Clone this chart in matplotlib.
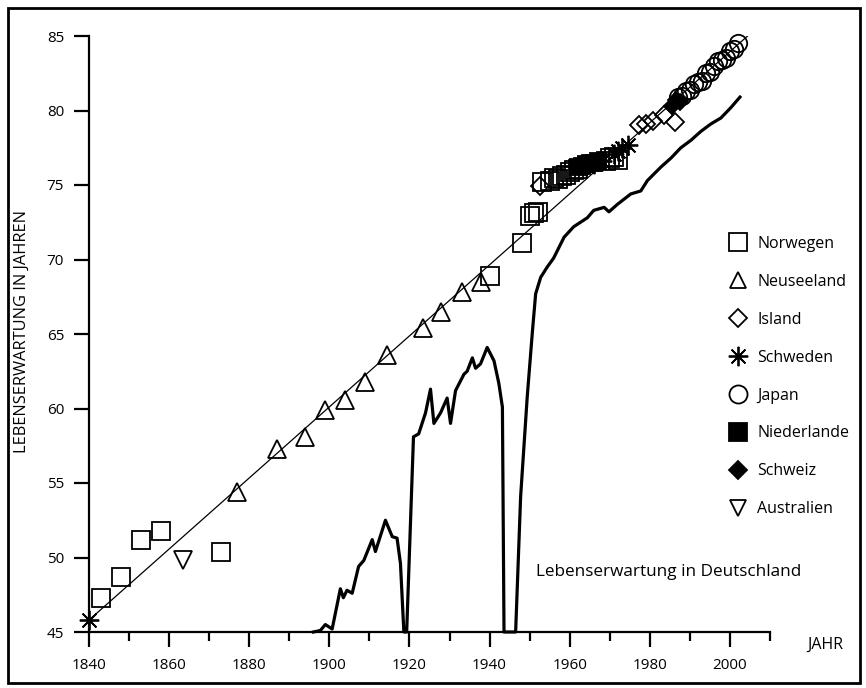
import numpy as np
import matplotlib
matplotlib.use('Agg')
import matplotlib.pyplot as plt
from matplotlib.lines import Line2D
from matplotlib.patches import Rectangle
from matplotlib.ticker import MultipleLocator

plt.rcParams['font.family'] = ['Open Sans', 'DejaVu Sans']

# record holders (year, life expectancy)
norwegen_years = [1843, 1848, 1853, 1858, 1873, 1940, 1948, 1950, 1951, 1952,
                  1953, 1955, 1956, 1957, 1958, 1959, 1960, 1961, 1962,
                  1969, 1970, 1971, 1972]
norwegen_vals = [47.3, 48.7, 51.2, 51.8, 50.4, 68.9, 71.1, 72.9, 73.1, 73.2,
                 75.2, 75.3, 75.5, 75.4, 75.6, 75.7, 75.9, 76.0, 76.1,
                 76.6, 76.8, 76.9, 76.7]

neuseeland_years = [1877, 1887, 1894, 1899, 1904, 1909, 1914.5, 1923.5, 1927.75, 1933, 1937.75]
neuseeland_vals = [54.4, 57.3, 58.1, 59.9, 60.6, 61.8, 63.6, 65.4, 66.5, 67.8, 68.5]

island_years = [1952.5, 1977.3, 1979, 1980.7, 1983.6, 1986.3]
island_vals = [74.9, 79.0, 79.1, 79.3, 79.7, 79.2]

schweden_years = [1840, 1964, 1966, 1968, 1971, 1972, 1973, 1974.5]
schweden_vals = [45.8, 76.3, 76.4, 76.6, 77.1, 77.3, 77.5, 77.7]

japan_years = [1987, 1988, 1989, 1990, 1991, 1992, 1993, 1994, 1995, 1996,
               1997, 1998, 1999, 2000, 2001, 2002]
japan_vals = [80.9, 81.0, 81.3, 81.4, 81.8, 81.9, 82.0, 82.5, 82.6, 83.0,
              83.3, 83.4, 83.5, 84.0, 84.1, 84.5]

niederlande_years = [1962, 1963, 1964, 1965, 1966, 1967]
niederlande_vals = [76.2, 76.3, 76.4, 76.5, 76.5, 76.6]

schweiz_years = [1985.5, 1986.5, 1987.5]
schweiz_vals = [80.3, 80.7, 80.6]

australien_years = [1863.5]
australien_vals = [49.8]

# linear trend of record life expectancy
trend_years = [1840, 2006.5]
trend_vals = [45.8, 85.5]

# Germany
de_years = [1896, 1897.75, 1899, 1900.7, 1902.75, 1903.5, 1904.4, 1905.7, 1907.3, 1908.6,
            1910.7, 1911.5, 1914, 1915.7, 1916.9, 1917.75, 1918.6, 1919.3, 1921.0, 1922.3,
            1924, 1925.25, 1926.1, 1927.75, 1929.4, 1930.25, 1931.5, 1933.6, 1934.4, 1935.7,
            1936.5, 1937.75, 1939.4, 1941.1, 1942.3, 1943.2, 1943.6, 1946.5, 1947.75, 1949.4,
            1950.7, 1951.5, 1952.75, 1954.4, 1956, 1958.6, 1961, 1964.4, 1966, 1968.6,
            1969.8, 1971.9, 1975.25, 1977.75, 1979.4, 1982.75, 1985.25, 1987.75, 1990.25, 1992.75,
            1995.25, 1997.75, 2000.25, 2002.5]
de_vals = [45.0, 45.1, 45.5, 45.2, 47.9, 47.3, 47.8, 47.6, 49.4, 49.8,
           51.2, 50.4, 52.5, 51.4, 51.3, 49.6, 45.0, 45.0, 58.1, 58.3,
           59.7, 61.3, 59.0, 59.7, 60.7, 59.0, 61.2, 62.3, 62.5, 63.4,
           62.7, 63.0, 64.1, 63.2, 61.7, 60.1, 45.0, 45.0, 54.1, 60.8,
           65.2, 67.7, 68.8, 69.5, 70.1, 71.5, 72.2, 72.8, 73.3, 73.5,
           73.2, 73.7, 74.4, 74.6, 75.3, 76.2, 76.8, 77.5, 78.0, 78.6,
           79.1, 79.5, 80.2, 80.9]

W, H = 866, 688
fig = plt.figure(figsize=(W / 100, H / 100), dpi=100)
ax = fig.add_axes([89 / W, (H - 632) / H, 681 / W, 596 / H])

ax.plot(trend_years, trend_vals, color='black', lw=0.9, zorder=2)
ax.plot(de_years, de_vals, color='black', lw=2.3, zorder=2, clip_on=False)

mkw = dict(linestyle='none', color='black', mew=1.3, clip_on=False, zorder=3)
ax.plot(norwegen_years, norwegen_vals, marker='s', ms=13.5, mfc='none', **mkw)
ax.plot(neuseeland_years, neuseeland_vals, marker='^', ms=13, mfc='none', **mkw)
ax.plot(island_years, island_vals, marker='D', ms=9, mfc='none', **mkw)
ax.plot(schweden_years, schweden_vals, marker=(8, 2, 0), ms=14, **mkw)
ax.plot(japan_years, japan_vals, marker='o', ms=12.5, mfc='none', **mkw)
ax.plot(niederlande_years, niederlande_vals, marker='s', ms=11, mfc='black', **mkw)
ax.plot(schweiz_years, schweiz_vals, marker='D', ms=8, mfc='black', **mkw)
ax.plot(australien_years, australien_vals, marker='v', ms=13, mfc='none', **mkw)

ax.set_xlim(1840, 2010)
ax.set_ylim(45, 85)
for s in ['top', 'right']:
    ax.spines[s].set_visible(False)
for s in ['left', 'bottom']:
    ax.spines[s].set_linewidth(1.6)

ax.xaxis.set_major_locator(MultipleLocator(20))
ax.xaxis.set_minor_locator(MultipleLocator(10))
ax.yaxis.set_major_locator(MultipleLocator(5))
ax.tick_params(axis='x', which='major', length=11, width=1.6, pad=8, labelsize=11)
ax.tick_params(axis='x', which='minor', length=6.5, width=1.6)
ax.tick_params(axis='y', which='major', length=11, width=1.6, pad=7, labelsize=11)

ax.set_ylabel('LEBENSERWARTUNG IN JAHREN', fontsize=11.8)
ax.yaxis.set_label_coords(-0.087, 0.505)

ax.text(1.054, -0.022, 'JAHR', transform=ax.transAxes, fontsize=11.5, va='center', ha='left')
ax.text(1951.5, 49.0, 'Lebenserwartung in Deutschland', fontsize=12.3, va='center', ha='left')

handles = [
    Line2D([], [], marker='s', ms=13.5, mfc='none', color='black', mew=1.3, ls='none'),
    Line2D([], [], marker='^', ms=12, mfc='none', color='black', mew=1.3, ls='none'),
    Line2D([], [], marker='D', ms=9, mfc='none', color='black', mew=1.3, ls='none'),
    Line2D([], [], marker=(8, 2, 0), ms=14, color='black', mew=1.3, ls='none'),
    Line2D([], [], marker='o', ms=13, mfc='none', color='black', mew=1.3, ls='none'),
    Line2D([], [], marker='s', ms=13, mfc='black', color='black', mew=1.3, ls='none'),
    Line2D([], [], marker='D', ms=9, mfc='black', color='black', mew=1.3, ls='none'),
    Line2D([], [], marker='v', ms=12, mfc='none', color='black', mew=1.3, ls='none'),
]
labels = ['Norwegen', 'Neuseeland', 'Island', 'Schweden', 'Japan',
          'Niederlande', 'Schweiz', 'Australien']
fig.legend(handles, labels, loc='upper left', bbox_to_anchor=(727 / W, 1 - 236 / H),
           frameon=False, fontsize=11.5, handlelength=1.35, handletextpad=0.55,
           labelspacing=1.37, borderpad=0, borderaxespad=0)

fig.patches.append(Rectangle((0.009, 0.007), 0.984, 0.982, transform=fig.transFigure,
                             fill=False, lw=2, edgecolor='black'))

fig.savefig('out.png', dpi=100)
